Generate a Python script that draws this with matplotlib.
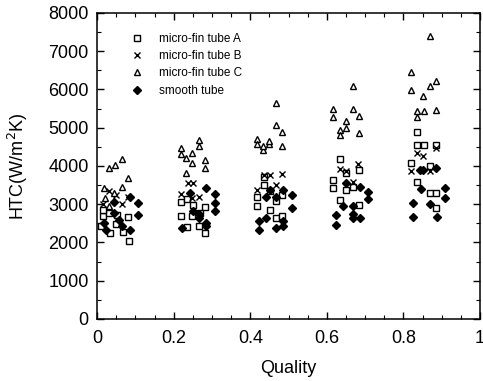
import matplotlib
matplotlib.use("Agg")
import matplotlib.pyplot as plt
from matplotlib.ticker import MultipleLocator

# micro-fin tube A (squares)
a_x = [0.015, 0.010, 0.035, 0.032, 0.050, 0.067, 0.083, 0.081, 0.051, 0.015,
       0.218, 0.236, 0.248, 0.236, 0.266, 0.283, 0.283, 0.220, 0.268, 0.250,
       0.418, 0.418, 0.436, 0.436, 0.451, 0.466, 0.466, 0.484, 0.484, 0.451,
       0.634, 0.616, 0.616, 0.651, 0.651, 0.634, 0.684, 0.684, 0.667,
       0.835, 0.834, 0.854, 0.820, 0.885, 0.834, 0.869, 0.869, 0.885, 0.885]
a_y = [2680, 2440, 2240, 2770, 2490, 2270, 2040, 2670, 2720, 2850,
       3060, 3130, 2680, 2400, 2420, 2920, 2240, 2680, 2770, 2990,
       3200, 2960, 3720, 3510, 2850, 3070, 2630, 3250, 2680, 3340,
       4180, 3640, 3420, 3820, 3360, 3110, 3900, 2980, 3460,
       4877, 4554, 4554, 4074, 4554, 3568, 3987, 3289, 3289, 2896]

# micro-fin tube B (crosses)
b_x = [0.030, 0.050, 0.065, 0.015, 0.080,
       0.218, 0.237, 0.250, 0.266, 0.247,
       0.418, 0.436, 0.451, 0.484, 0.466,
       0.634, 0.667, 0.682, 0.651,
       0.820, 0.834, 0.852, 0.869, 0.885]
b_y = [3350, 3250, 3000, 3000, 3200,
       3270, 3550, 3550, 3200, 3150,
       3380, 3750, 3770, 3800, 3490,
       3920, 3590, 4050, 3860,
       3856, 4336, 4249, 3856, 4467]

# micro-fin tube C (triangles)
c_x = [0.017, 0.020, 0.032, 0.048, 0.065, 0.064, 0.045, 0.081, 0.030,
       0.218, 0.218, 0.233, 0.248, 0.233, 0.248, 0.266, 0.266, 0.282, 0.282,
       0.418, 0.418, 0.433, 0.449, 0.449, 0.466, 0.466, 0.484, 0.484, 0.433,
       0.616, 0.616, 0.634, 0.634, 0.651, 0.651, 0.669, 0.669, 0.684, 0.684,
       0.869, 0.820, 0.820, 0.852, 0.869, 0.885, 0.834, 0.834, 0.854, 0.885]
c_y = [3430, 3150, 3950, 4020, 4180, 3440, 3290, 3680, 2950,
       4467, 4320, 4205, 4335, 3810, 4075, 4685, 4528, 4160, 3940,
       4700, 4580, 4420, 4580, 4640, 5645, 5080, 4900, 4510, 4530,
       5490, 5280, 4950, 4800, 5170, 4990, 6080, 5490, 5300, 4860,
       7407, 6447, 5993, 5819, 6098, 6211, 5426, 5278, 5426, 5470]

# smooth tube (filled diamonds)
s_x = [0.019, 0.024, 0.045, 0.058, 0.065, 0.085, 0.085, 0.107, 0.107, 0.045,
       0.242, 0.250, 0.266, 0.284, 0.284, 0.307, 0.307, 0.307, 0.221, 0.266, 0.284,
       0.423, 0.423, 0.442, 0.451, 0.466, 0.468, 0.486, 0.486, 0.508, 0.508, 0.442, 0.486,
       0.624, 0.624, 0.642, 0.651, 0.667, 0.667, 0.686, 0.686, 0.708, 0.708, 0.669,
       0.826, 0.826, 0.845, 0.852, 0.869, 0.885, 0.908, 0.908, 0.887, 0.843]
s_y = [2520, 2330, 3050, 2590, 2440, 3200, 2330, 3040, 2720, 2770,
       3290, 2810, 2750, 3420, 2420, 3270, 3030, 2810, 2370, 2630, 2510,
       2550, 2330, 2630, 3380, 3190, 2370, 3380, 2420, 3250, 2900, 3200, 2570,
       2720, 2460, 2960, 3550, 2940, 2630, 3460, 2630, 3330, 3130, 2750,
       3027, 2661, 3394, 3882, 3010, 3943, 3420, 3158, 2661, 3900]

plt.rcParams["font.family"] = ["Liberation Sans", "DejaVu Sans"]

fig = plt.figure(figsize=(4.83, 3.81), dpi=100)
ax = fig.add_axes([0.201, 0.163, 0.793, 0.803])

ax.plot(a_x, a_y, ls="none", marker="s", ms=4.5, mfc="white", mec="black", mew=1.0,
        label="micro-fin tube A")
ax.plot(b_x, b_y, ls="none", marker="x", ms=4.8, color="black", mew=1.0,
        label="micro-fin tube B")
ax.plot(c_x, c_y, ls="none", marker="^", ms=4.8, mfc="white", mec="black", mew=1.0,
        label="micro-fin tube C")
ax.plot(s_x, s_y, ls="none", marker="D", ms=4.0, color="black",
        label="smooth tube")

ax.set_xlim(0, 1)
ax.set_ylim(0, 8000)
ax.xaxis.set_major_locator(MultipleLocator(0.2))
ax.xaxis.set_minor_locator(MultipleLocator(0.05))
ax.yaxis.set_major_locator(MultipleLocator(1000))
ax.yaxis.set_minor_locator(MultipleLocator(500))
ax.xaxis.set_major_formatter(plt.FuncFormatter(lambda v, _: f"{v:g}"))
ax.tick_params(which="both", direction="in", top=True, right=True, labelsize=13)
ax.tick_params(which="major", length=5, width=1)
ax.tick_params(which="minor", length=3, width=0.8)
ax.tick_params(axis="x", which="major", pad=8)
ax.tick_params(axis="y", which="major", pad=6)
for sp in ax.spines.values():
    sp.set_linewidth(1.1)

ax.set_xlabel("Quality", fontsize=13)
ax.set_ylabel("HTC(W/m$^2$K)", fontsize=13)
ax.xaxis.set_label_coords(0.5, -0.135)
ax.yaxis.set_label_coords(-0.175, 0.5)

ax.legend(loc="upper left", bbox_to_anchor=(0.06, 0.97), frameon=False,
          fontsize=8.5, handletextpad=1.4, labelspacing=0.45, handlelength=1)

fig.savefig("out.png", dpi=100)
